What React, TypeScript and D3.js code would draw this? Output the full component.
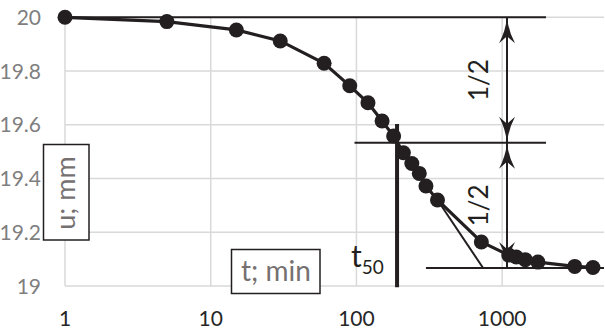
import { useEffect, useRef } from 'react';
import * as d3 from 'd3';

// consolidation curve: settlement u (mm) vs time t (min)
const times = [1, 5, 15, 30, 60, 90, 120, 150, 180, 210, 240, 270, 300, 360, 720, 1110, 1250, 1440, 1760, 3150, 4200];
const settlement = [20, 19.984, 19.953, 19.912, 19.829, 19.745, 19.682, 19.614, 19.558, 19.496, 19.456, 19.419, 19.372, 19.32, 19.164, 19.115, 19.108, 19.098, 19.089, 19.073, 19.069];
const xTicks = [1, 10, 100, 1000];
const xTickLabels = ['1', '10', '100', '1000'];
const yTicks = [19, 19.2, 19.4, 19.6, 19.8, 20];
const yTickLabels = ['19', '19.2', '19.4', '19.6', '19.8', '20'];

// construction lines
const uStart = 20;
const uHalf = 19.533;
const uEnd = 19.067;
const t50 = 190;
const tArrow = 1080;
const tangentFrom = 360;
const tangentTo = 740;

const W = 605;
const H = 332;
const FONT = 'Lato, "Open Sans", sans-serif';
const INK = '#231f20';

export default function App() {
  const svgRef = useRef<SVGSVGElement | null>(null);

  useEffect(() => {
    if (!svgRef.current) return;
    const svg = d3.select(svgRef.current);
    svg.selectAll('*').remove();

    const x = d3.scaleLog().domain([1, 5000]).range([65, 604]);
    const y = d3.scaleLinear().domain([19, 20]).range([286, 17.3]);
    const pts = times.map((t, i) => ({ t, u: settlement[i] }));

    // grid
    const grid = svg.append('g').attr('stroke', '#d9d9d9').attr('stroke-width', 1.5);
    grid.selectAll('.vg').data(xTicks).enter().append('line')
      .attr('x1', d => x(d)).attr('x2', d => x(d))
      .attr('y1', y(20)).attr('y2', y(19));
    grid.selectAll('.hg').data(yTicks).enter().append('line')
      .attr('x1', x(1)).attr('x2', x(5000))
      .attr('y1', d => y(d)).attr('y2', d => y(d));

    // tick labels
    svg.append('g').selectAll('text').data(yTicks).enter().append('text')
      .attr('x', 41).attr('y', d => y(d)).attr('dy', '0.36em')
      .attr('text-anchor', 'end')
      .style('font-family', FONT).style('font-size', '21px').style('fill', '#7f7f7f')
      .text((d, i) => yTickLabels[i]);
    svg.append('g').selectAll('text').data(xTicks).enter().append('text')
      .attr('x', d => x(d)).attr('y', 326)
      .attr('text-anchor', 'middle')
      .style('font-family', FONT).style('font-size', '21px').style('fill', '#262626')
      .text((d, i) => xTickLabels[i]);

    // series
    const line = d3.line<{ t: number; u: number }>().x(d => x(d.t)).y(d => y(d.u));
    svg.append('path').datum(pts)
      .attr('fill', 'none').attr('stroke', INK).attr('stroke-width', 3.2).attr('d', line);
    svg.append('g').selectAll('circle').data(pts).enter().append('circle')
      .attr('cx', d => x(d.t)).attr('cy', d => y(d.u)).attr('r', 7.5).attr('fill', INK);

    // construction lines
    const ann = svg.append('g').attr('stroke', INK).attr('stroke-width', 2);
    ann.append('line').attr('x1', x(1)).attr('x2', x(2000)).attr('y1', y(uStart)).attr('y2', y(uStart));
    ann.append('line').attr('x1', x(97)).attr('x2', x(2000)).attr('y1', y(uHalf)).attr('y2', y(uHalf));
    ann.append('line').attr('x1', x(300)).attr('x2', x(5000)).attr('y1', y(uEnd)).attr('y2', y(uEnd));
    ann.append('line').attr('x1', x(tangentFrom)).attr('x2', x(tangentTo))
      .attr('y1', y(settlement[times.indexOf(tangentFrom)])).attr('y2', y(uEnd));
    ann.append('line').attr('x1', x(t50)).attr('x2', x(t50))
      .attr('y1', y(19.603)).attr('y2', y(18.995)).attr('stroke-width', 4);

    // double arrows
    const ax = x(tArrow);
    const head = (yTip: number, dir: number) =>
      `M${ax},${yTip} Q${ax + 1.5},${yTip + dir * 14} ${ax + 8},${yTip + dir * 26} L${ax},${yTip + dir * 19} L${ax - 8},${yTip + dir * 26} Q${ax - 1.5},${yTip + dir * 14} ${ax},${yTip}Z`;
    [[uStart, uHalf], [uHalf, uEnd]].forEach(([a, b]) => {
      ann.append('line').attr('x1', ax).attr('x2', ax).attr('y1', y(a)).attr('y2', y(b));
      svg.append('path').attr('d', head(y(a), 1)).attr('fill', INK);
      svg.append('path').attr('d', head(y(b), -1)).attr('fill', INK);
      svg.append('text')
        .attr('transform', `translate(${ax - 28},${(y(a) + y(b)) / 2}) rotate(-90)`)
        .attr('text-anchor', 'middle').attr('dy', '0.35em')
        .style('font-family', FONT).style('font-size', '26px').style('fill', INK)
        .text('1/2');
    });

    // t50 label
    const t50Text = svg.append('text').attr('x', 351).attr('y', 267)
      .style('font-family', FONT).style('fill', INK);
    t50Text.append('tspan').style('font-size', '30px').text('t');
    t50Text.append('tspan').attr('dy', 7).style('font-size', '19px').text('50');

    // axis title boxes
    svg.append('rect').attr('x', 43.5).attr('y', 144.5).attr('width', 45.5).attr('height', 95.5)
      .attr('fill', '#fff').attr('stroke', INK).attr('stroke-width', 1.5);
    svg.append('text')
      .attr('transform', `translate(66,193) rotate(-90)`)
      .attr('text-anchor', 'middle').attr('dy', '0.35em')
      .style('font-family', FONT).style('font-size', '27px').style('fill', '#767171')
      .text('u; mm');
    svg.append('rect').attr('x', 231.5).attr('y', 249.5).attr('width', 88.5).attr('height', 44)
      .attr('fill', '#fff').attr('stroke', INK).attr('stroke-width', 1.5);
    svg.append('text').attr('x', 276).attr('y', 271.5).attr('dy', '0.35em')
      .attr('text-anchor', 'middle')
      .style('font-family', FONT).style('font-size', '28px').style('fill', '#767171')
      .text('t; min');
  }, []);

  return (
    <svg ref={svgRef} width={W} height={H}
      style={{ position: 'absolute', left: 0, top: 0, background: '#fff' }} />
  );
}
